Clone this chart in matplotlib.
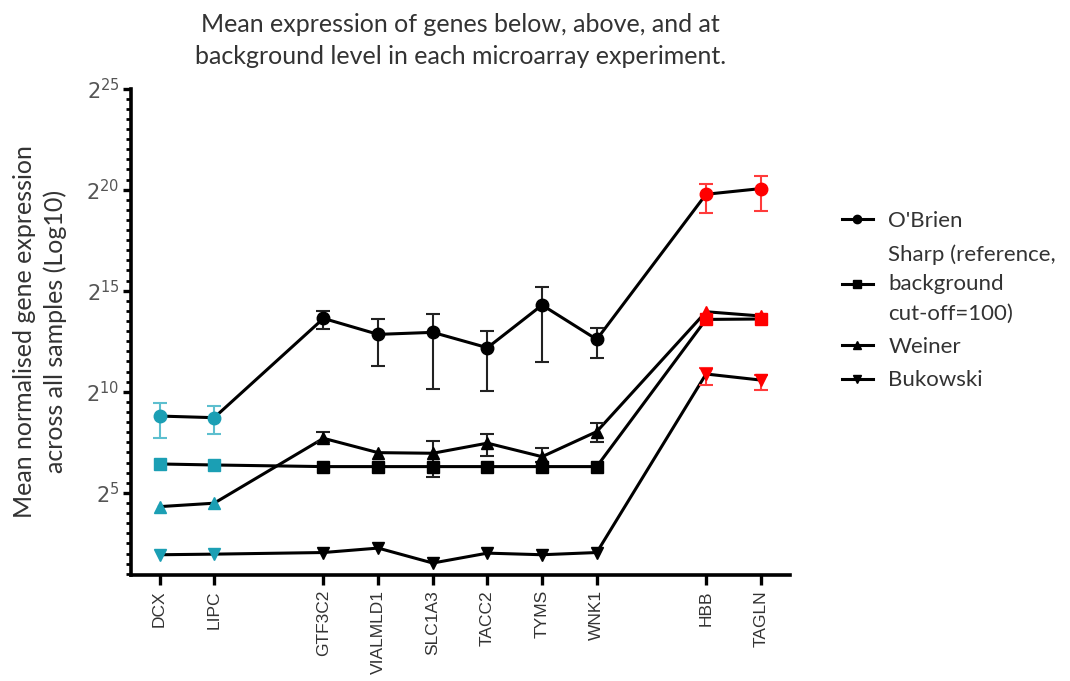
import numpy as np
import matplotlib
matplotlib.use("Agg")
from matplotlib import pyplot as plt
from matplotlib.lines import Line2D
from matplotlib.ticker import FixedLocator, FixedFormatter, NullFormatter

genes = ["DCX", "LIPC", "GTF3C2", "VIALMLD1", "SLC1A3", "TACC2", "TYMS", "WNK1", "HBB", "TAGLN"]
gene_pos = [0, 1, 3, 4, 5, 6, 7, 8, 10, 11]
# below background / at background / above background
gene_group = ["below", "below", "mid", "mid", "mid", "mid", "mid", "mid", "above", "above"]

# log2 means and error bar ends (nan = no bar)
obrien = [8.80, 8.72, 13.63, 12.84, 12.94, 12.18, 14.29, 12.59, 19.77, 20.05]
obrien_hi = [9.46, 9.30, 13.99, 13.60, 13.84, 13.00, 15.16, 13.17, 20.30, 20.68]
obrien_lo = [7.73, 7.90, 13.10, 11.29, 10.12, 10.04, 11.46, 11.68, 18.82, 18.95]

sharp = [6.43, 6.38, 6.30, 6.30, 6.30, 6.30, 6.30, 6.30, 13.58, 13.60]

weiner = [4.32, 4.49, 7.70, 6.99, 6.96, 7.46, 6.79, 8.03, 13.96, 13.75]
weiner_hi = [np.nan, np.nan, 8.00, np.nan, 7.57, 7.92, 7.24, 8.47, np.nan, np.nan]
weiner_lo = [np.nan, np.nan, 7.54, np.nan, 5.78, 6.84, 6.55, 7.53, np.nan, np.nan]

bukowski = [1.94, 1.97, 2.05, 2.27, 1.53, 2.02, 1.94, 2.05, 10.88, 10.58]
bukowski_hi = [np.nan] * 8 + [11.16, 10.83]
bukowski_lo = [np.nan] * 8 + [10.34, 10.09]

marker_col = {"below": "#1b9fb4", "mid": "black", "above": "#ff0000"}
bar_col = {"below": "#5dbfcf", "mid": "#222222", "above": "#ff3b3b"}

series = [
    ("O'Brien", "o", 9, obrien, obrien_lo, obrien_hi),
    ("Sharp (reference,\nbackground\ncut-off=100)", "s", 8.5, sharp, None, None),
    ("Weiner", "^", 9, weiner, weiner_lo, weiner_hi),
    ("Bukowski", "v", 9, bukowski, bukowski_lo, bukowski_hi),
]

fig = plt.figure(figsize=(10.7, 6.81), dpi=100)
ax = fig.add_axes([0.122, 0.156, 0.616, 0.714])
ax.set_yscale("log", base=2)

handles = []
for name, mk, ms, vals, lo, hi in series:
    y = 2.0 ** np.array(vals)
    ax.plot(gene_pos, y, color="black", lw=2.2, zorder=2)
    for i, g in enumerate(gene_group):
        if lo is not None and not np.isnan(lo[i]):
            ax.errorbar(gene_pos[i], y[i],
                        yerr=[[y[i] - 2.0 ** lo[i]], [2.0 ** hi[i] - y[i]]],
                        fmt="none", ecolor=bar_col[g], elinewidth=1.5,
                        capsize=5, capthick=1.5, zorder=3)
        ax.plot(gene_pos[i], y[i], marker=mk, ms=ms, color=marker_col[g],
                mec=marker_col[g], ls="none", zorder=4)
    handles.append(Line2D([], [], color="black", lw=2.2, marker=mk, ms=6))

ax.set_xlim(-0.53, 11.53)
ax.set_ylim(2 ** 0.95, 2 ** 25)

ax.set_xticks(gene_pos)
ax.set_xticklabels(genes, rotation=90, fontsize=12.5, family="Liberation Sans", color="#333333")

major = [5, 10, 15, 20, 25]
ax.yaxis.set_major_locator(FixedLocator([2.0 ** k for k in major]))
ax.yaxis.set_major_formatter(FixedFormatter([r"$2^{%d}$" % k for k in major]))
ax.yaxis.set_minor_locator(FixedLocator(2.0 ** np.arange(1.0, 25.0, 0.5)))
ax.yaxis.set_minor_formatter(NullFormatter())
plt.setp(ax.get_yticklabels(), fontsize=15, color="#555555")

for side in ["top", "right"]:
    ax.spines[side].set_visible(False)
for side in ["left", "bottom"]:
    ax.spines[side].set_linewidth(2.6)
ax.tick_params(axis="x", which="major", length=7, width=2.4, pad=4)
ax.tick_params(axis="y", which="major", length=6, width=2.4, pad=2)
ax.tick_params(axis="y", which="minor", length=3.5, width=2.0)

ax.set_title("Mean expression of genes below, above, and at\nbackground level in each microarray experiment.",
             family="Lato", fontsize=18, color="#333333", pad=18, linespacing=1.45)
ax.set_ylabel("Mean normalised gene expression\nacross all samples (Log10)",
              family="Lato", fontsize=18, color="#333333", labelpad=14, linespacing=1.35)

fig.legend(handles, [s[0] for s in series], loc="upper left", bbox_to_anchor=(0.768, 0.72),
           frameon=False, prop={"family": "Lato", "size": 16}, handlelength=1.4,
           labelspacing=0.6, handletextpad=0.7)
for t in fig.legends[0].get_texts():
    t.set_color("#333333")
    t.set_linespacing(1.6)

fig.savefig("out.png", dpi=100)
